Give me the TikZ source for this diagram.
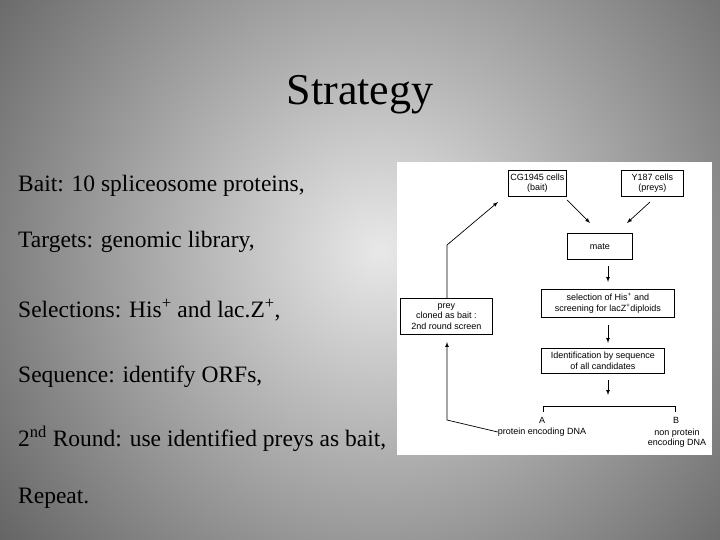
\documentclass[tikz,border=0pt]{standalone}
\usetikzlibrary{calc}
\usepackage{fontspec}
\setmainfont{Liberation Serif}
\newfontfamily\dsans{Liberation Sans}
\begin{document}
\begin{tikzpicture}[x=1pt,y=-1pt,
  bx/.style={draw,line width=0.7pt,font=\dsans\fontsize{9}{10.5}\selectfont,align=center,inner sep=0pt,anchor=north west},
  lbl/.style={font=\dsans\fontsize{9}{10.5}\selectfont,align=center,inner sep=0pt},
  arr/.style={-latex,line width=0.7pt},
  item/.style={anchor=west,font=\fontsize{23.5}{27}\selectfont,inner sep=0pt}]
\useasboundingbox (0,0) rectangle (720,540);
\begin{scope}
\clip (0,0) rectangle (720,540);
\shade[inner color=gray!18, outer color=gray!70!black] (380,250) circle (520);
\end{scope}
\node[font=\fontsize{44}{48}\selectfont] (title) at (360,95) {Strategy};
\node[item] (i1) at (18,186) {Bait: 10 spliceosome proteins,};
\node[item] (i2) at (18,242) {Targets: genomic library,};
\node[item] (i3) at (18,310) {Selections: His\textsuperscript{+} and lac.Z\textsuperscript{+},};
\node[item] (i4) at (18,377) {Sequence: identify ORFs,};
\node[item] (i5) at (18,439) {2\textsuperscript{nd} Round: use identified preys as bait,};
\node[item] (i6) at (18,498) {Repeat.};
\fill[white] (397,162) rectangle (712,455);
\node[bx,minimum width=58,minimum height=26] (cg) at (508,170) {CG1945 cells\\(bait)};
\node[bx,minimum width=62,minimum height=26] (y) at (621,170) {Y187 cells\\(preys)};
\node[bx,minimum width=65,minimum height=26] (mate) at (567,233) {mate};
\node[bx,minimum width=133,minimum height=28] (sel) at (541,289) {selection of His\textsuperscript{+} and\\screening for lacZ\textsuperscript{+}diploids};
\node[bx,minimum width=123,minimum height=25] (id) at (541,348) {Identification by sequence\\of all candidates};
\node[bx,minimum width=92,minimum height=36] (prey) at (400,298) {prey\\cloned as bait :\\2nd round screen};
\coordinate (ca) at (567,200); \coordinate (cb) at (590,223);
\draw[arr] (ca) -- (cb);
\coordinate (ya) at (650,202); \coordinate (yb) at (627,223);
\draw[arr] (ya) -- (yb);
\coordinate (m1) at (608,266); \coordinate (m2) at (608,282);
\draw[arr] (m1) -- (m2);
\coordinate (s1) at (608,325); \coordinate (s2) at (608,343);
\draw[arr] (s1) -- (s2);
\coordinate (d1) at (608,380); \coordinate (d2) at (608,395);
\draw[arr] (d1) -- (d2);
\coordinate (bl) at (543,412); \coordinate (br) at (675,412);
\draw[line width=0.7pt] (bl) -- ++(0,-6) -- ($(br)+(0,-6)$) -- (br);
\node[lbl] (A) at (542,420) {A};
\node[lbl] (B) at (676,420) {B};
\node[lbl] (pe) at (542,432) {protein encoding DNA};
\node[lbl] (npe) at (677,438) {non protein\\encoding DNA};
\coordinate (l1) at (447,420); \coordinate (l2) at (447,245); \coordinate (l3) at (498,202);
\coordinate (pb) at (447,342);
\draw[arr] (pe.west) -- (l1) -- (pb);
\draw[arr] (prey.north -| l1) -- (l2) -- (l3);
\end{tikzpicture}
\end{document}
